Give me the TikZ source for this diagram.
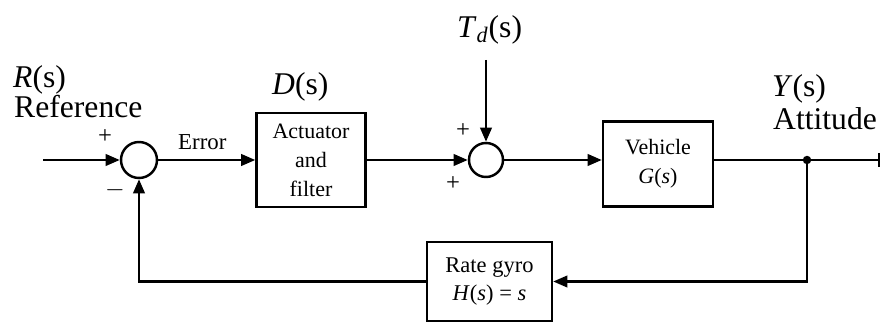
\documentclass[tikz,border=0pt]{standalone}
\usepackage{fontspec}
\setmainfont{Liberation Serif}
\usetikzlibrary{arrows.meta}
\usetikzlibrary{positioning}

\begin{document}
\begin{tikzpicture}[
    x=0.02cm, y=-0.02cm,
    line width=1.4pt,
    >={Triangle[length=8pt,width=6.5pt]},
    sum/.style={circle, draw, minimum size=0.72cm, inner sep=0pt},
    block/.style={rectangle, draw, align=center, inner sep=0pt,
                  font=\fontsize{12.5}{16.5}\selectfont},
    big label/.style={anchor=base west, inner sep=0pt, font=\fontsize{18}{20}\selectfont},
    small label/.style={anchor=base west, inner sep=0pt, font=\fontsize{13}{14}\selectfont},
    sign/.style={inner sep=0pt, font=\fontsize{14}{14}\selectfont},
  ]
  \useasboundingbox (0,0) rectangle (882,323);

  % Nodes
  \node[sum] (s1) at (139,160) {};
  \node[sum, minimum size=0.68cm] (s2) at (486,160) {};
  \node[block, minimum width=2.18cm, minimum height=1.88cm] (act) at (311,160) {Actuator\\and\\filter};
  \node[block, minimum width=2.2cm, minimum height=1.7cm] (veh) at (658,164) {Vehicle\\\textit{G}(\textit{s})};
  \node[block, minimum width=2.5cm, minimum height=1.58cm,
        font=\fontsize{12.8}{15.5}\selectfont] (gyro) at (489.5,281.5) {Rate gyro\\\textit{H}(\textit{s}) = \textit{s}};

  \coordinate (in) at (43,160);
  \coordinate (td) at (486,60);
  \coordinate (branch) at (807,160);
  \coordinate (out) at (880,160);

  % Labels
  \node[big label] (rs) at (12,88) {\textit{R}(s)};
  \node[big label] (ref) at (13,118) {Reference};
  \node[big label] (ds) at (271,95) {\textit{D}(s)};
  \node[big label] (tds) at (456,38) {\textit{T}\textsubscript{\textit{d}}(s)};
  \node[big label] (ys) at (771,97) {\textit{Y}(s)};
  \node[big label] (att) at (772,130) {Attitude};
  \node[small label] (err) at (177,150) {Error};

  % Signs
  \node[sign] (p1) at (105,137) {+};
  \node[sign] (m1) at (115,190) {$-$};
  \node[sign] (p2) at (463,131) {+};
  \node[sign] (p3) at (453,184) {+};

  % Edges
  \draw[->] (in) -- (s1);
  \draw[->] (s1) -- (act);
  \draw[->] (act) -- (s2);
  \draw[->] (td) -- (s2);
  \draw[->] (s2) -- (veh.west |- s2);
  \draw[-{Bar[width=8pt]}] (veh.east |- branch) -- (out);
  \fill (branch) circle (2.4pt);
  \draw[->] (branch) |- (gyro.east);
  \draw[->] (gyro.west) -| (s1.south);

\end{tikzpicture}
\end{document}
